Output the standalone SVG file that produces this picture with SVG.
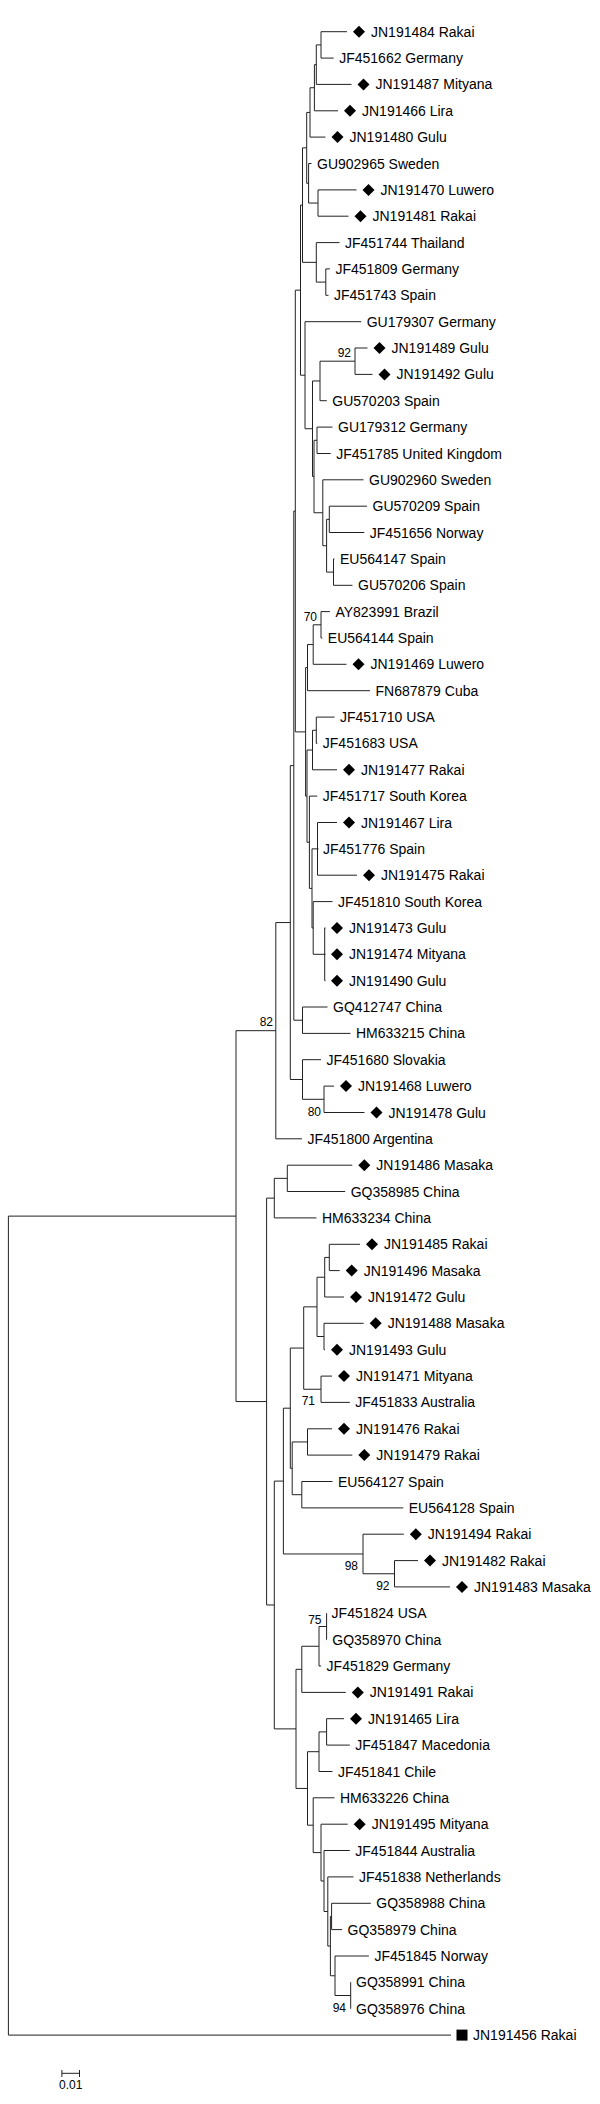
<svg xmlns="http://www.w3.org/2000/svg" xmlns:xlink="http://www.w3.org/1999/xlink" width="600" height="2104" viewBox="0 0 600 2104">
<style>
text{font-family:"Liberation Sans",Arial,sans-serif;fill:#000}
.t{font-size:14px}
.b{font-size:12px;text-anchor:end}
.s{font-size:12px;text-anchor:middle}
#connectors path{fill:none;stroke:#222;stroke-width:1}
.m{fill:#000}
</style>
<defs>
<path id="d" class="m" d="M0 -6L6 0L0 6L-6 0Z"/>
<rect id="sq" class="m" x="-5.5" y="-5.5" width="11" height="11"/>
</defs>
<rect width="600" height="2104" fill="#fff"/>
<g id="connectors">
<path d="M321 31.7V58.1M321 31.7H347M321 58.1H333.7"/>
<path d="M316.3 44.9V84.4M316.3 44.9H321M316.3 84.4H351.5"/>
<path d="M314.4 64.65V110.8M314.4 64.65H316.3M314.4 110.8H338"/>
<path d="M310 87.73V137.1M310 87.73H314.4M310 137.1H325.5"/>
<path d="M318 189.9V216.2M318 189.9H356.5M318 216.2H348.5"/>
<path d="M308.6 163.5V203.05M308.6 163.5H311.5M308.6 203.05H318"/>
<path d="M306.7 112.41V183.28M306.7 112.41H310M306.7 183.28H308.6"/>
<path d="M325.8 268.9V295.3M325.8 268.9H329.9M325.8 295.3H328.5"/>
<path d="M316.3 242.6V282.1M316.3 242.6H339.5M316.3 282.1H325.8"/>
<path d="M302.5 147.84V262.35M302.5 147.84H306.7M302.5 262.35H316.3"/>
<path d="M355 348V374.4M355 348H367.5M355 374.4H372.5"/>
<path d="M320 361.2V400.7M320 361.2H355M320 400.7H326.8"/>
<path d="M317 427.1V453.5M317 427.1H332.5M317 453.5H330.7"/>
<path d="M329.3 506.2V532.5M329.3 506.2H367M329.3 532.5H364.3"/>
<path d="M333.5 558.9V585.3M333.5 558.9H334.5M333.5 585.3H352.5"/>
<path d="M326.6 519.35V572.1M326.6 519.35H329.3M326.6 572.1H333.5"/>
<path d="M322.8 479.8V545.73M322.8 479.8H363.5M322.8 545.73H326.6"/>
<path d="M314 440.3V512.76M314 440.3H317M314 512.76H322.8"/>
<path d="M312.5 380.95V476.53M312.5 380.95H320M312.5 476.53H314"/>
<path d="M305 321.7V428.74M305 321.7H361.2M305 428.74H312.5"/>
<path d="M300.5 205.1V375.22M300.5 205.1H302.5M300.5 375.22H305"/>
<path d="M321 611.6V638M321 611.6H329.9M321 638H322.3"/>
<path d="M313.2 624.8V664.3M313.2 624.8H321M313.2 664.3H346.5"/>
<path d="M307.5 644.55V690.7M307.5 644.55H313.2M307.5 690.7H370"/>
<path d="M316.3 717.1V743.4M316.3 717.1H334.5M316.3 743.4H317.3"/>
<path d="M312.5 730.25V769.8M312.5 730.25H316.3M312.5 769.8H337"/>
<path d="M317.5 822.5V875.2M317.5 822.5H337M317.5 848.9H318.5M317.5 875.2H357"/>
<path d="M324.7 927.9V980.7M324.7 927.9H325.5M324.7 954.3H325.5M324.7 980.7H325.5"/>
<path d="M313.2 901.6V954.3M313.2 901.6H332.5M313.2 954.3H324.7"/>
<path d="M312 848.85V927.95M312 848.85H317.5M312 927.95H313.2"/>
<path d="M309.4 796.1V888.4M309.4 796.1H317.3M309.4 888.4H312"/>
<path d="M307 750.03V842.25M307 750.03H312.5M307 842.25H309.4"/>
<path d="M305.6 667.63V796.14M305.6 667.63H307.5M305.6 796.14H307"/>
<path d="M295.3 290.16V731.89M295.3 290.16H300.5M295.3 731.89H305.6"/>
<path d="M302.5 1007V1033.4M302.5 1007H327.5M302.5 1033.4H350.5"/>
<path d="M324 1086.1V1112.5M324 1086.1H334M324 1112.5H364.5"/>
<path d="M302.5 1059.7V1099.3M302.5 1059.7H321M302.5 1099.3H324"/>
<path d="M293.8 511.03V1020.2M293.8 511.03H295.3M293.8 1020.2H302.5"/>
<path d="M290.3 765.6V1079.5M290.3 765.6H293.8M290.3 1079.5H302.5"/>
<path d="M275.8 922.55V1138.8M275.8 922.55H290.3M275.8 1138.8H302"/>
<path d="M287.3 1165.2V1191.5M287.3 1165.2H352.3M287.3 1191.5H345.2"/>
<path d="M274.3 1178.35V1217.9M274.3 1178.35H287.3M274.3 1217.9H316.5"/>
<path d="M329.3 1244.3V1270.6M329.3 1244.3H360M329.3 1270.6H339.7"/>
<path d="M324.7 1257.45V1297M324.7 1257.45H329.3M324.7 1297H344"/>
<path d="M324 1323.3V1349.7M324 1323.3H363.7M324 1349.7H325"/>
<path d="M317 1277.23V1336.5M317 1277.23H324.7M317 1336.5H324"/>
<path d="M321 1376.1V1402.4M321 1376.1H332M321 1402.4H349.8"/>
<path d="M303.7 1306.86V1389.25M303.7 1306.86H317M303.7 1389.25H321"/>
<path d="M307.5 1428.8V1455.1M307.5 1428.8H332M307.5 1455.1H352.3"/>
<path d="M301.8 1481.5V1507.9M301.8 1481.5H332.5M301.8 1507.9H403.2"/>
<path d="M292.2 1441.95V1494.7M292.2 1441.95H307.5M292.2 1494.7H301.8"/>
<path d="M290.3 1348.06V1468.33M290.3 1348.06H303.7M290.3 1468.33H292.2"/>
<path d="M394.5 1560.6V1586.9M394.5 1560.6H418M394.5 1586.9H450"/>
<path d="M363 1534.2V1573.75M363 1534.2H403.8M363 1573.75H394.5"/>
<path d="M283.4 1408.2V1553.98M283.4 1408.2H290.3M283.4 1553.98H363"/>
<path d="M326.6 1613.3V1639.7M326.6 1613.3H327M326.6 1639.7H327"/>
<path d="M319 1626.5V1666M319 1626.5H326.6M319 1666H321.1"/>
<path d="M301.8 1646.25V1692.4M301.8 1646.25H319M301.8 1692.4H345.8"/>
<path d="M326.6 1718.7V1745.1M326.6 1718.7H344M326.6 1745.1H349.8"/>
<path d="M319 1731.9V1771.5M319 1731.9H326.6M319 1771.5H332.5"/>
<path d="M350.7 1982.3V2008.7M350.7 1982.3H351M350.7 2008.7H351"/>
<path d="M335 1956V1995.5M335 1956H368.9M335 1995.5H350.7"/>
<path d="M331.6 1903.3V1929.6M331.6 1903.3H370.8M331.6 1929.6H342.1"/>
<path d="M330.4 1916.45V1975.75M330.4 1916.45H331.6M330.4 1975.75H335"/>
<path d="M327.8 1876.9V1946.1M327.8 1876.9H353.5M327.8 1946.1H330.4"/>
<path d="M324 1850.5V1911.5M324 1850.5H349.8M324 1911.5H327.8"/>
<path d="M321 1824.2V1881M321 1824.2H347.7M321 1881H324"/>
<path d="M313.2 1797.8V1852.6M313.2 1797.8H334.5M313.2 1852.6H321"/>
<path d="M307.5 1751.7V1825.2M307.5 1751.7H319M307.5 1825.2H313.2"/>
<path d="M296 1669.33V1788.45M296 1669.33H301.8M296 1788.45H307.5"/>
<path d="M274.3 1481.09V1728.89M274.3 1481.09H283.4M274.3 1728.89H296"/>
<path d="M266.6 1198.13V1604.99M266.6 1198.13H274.3M266.6 1604.99H274.3"/>
<path d="M236 1030.68V1401.56M236 1030.68H275.8M236 1401.56H266.6"/>
<path d="M8.4 1216.12V2035.1M8.4 1216.12H236M8.4 2035.1H451"/>
</g>
<g id="leaves" class="t">
<g id="JN191484"><use xlink:href="#d" x="359" y="31.7"/><text class="t" x="371" y="36.7">JN191484 Rakai</text></g>
<g id="JF451662"><text class="t" x="339.2" y="63.1">JF451662 Germany</text></g>
<g id="JN191487"><use xlink:href="#d" x="363.5" y="84.4"/><text class="t" x="375.5" y="89.4">JN191487 Mityana</text></g>
<g id="JN191466"><use xlink:href="#d" x="350" y="110.8"/><text class="t" x="362" y="115.8">JN191466 Lira</text></g>
<g id="JN191480"><use xlink:href="#d" x="337.5" y="137.1"/><text class="t" x="349.5" y="142.1">JN191480 Gulu</text></g>
<g id="GU902965"><text class="t" x="317" y="168.5">GU902965 Sweden</text></g>
<g id="JN191470"><use xlink:href="#d" x="368.5" y="189.9"/><text class="t" x="380.5" y="194.9">JN191470 Luwero</text></g>
<g id="JN191481"><use xlink:href="#d" x="360.5" y="216.2"/><text class="t" x="372.5" y="221.2">JN191481 Rakai</text></g>
<g id="JF451744"><text class="t" x="345" y="247.6">JF451744 Thailand</text></g>
<g id="JF451809"><text class="t" x="335.4" y="273.9">JF451809 Germany</text></g>
<g id="JF451743"><text class="t" x="334" y="300.3">JF451743 Spain</text></g>
<g id="GU179307"><text class="t" x="366.7" y="326.7">GU179307 Germany</text></g>
<g id="JN191489"><use xlink:href="#d" x="379.5" y="348"/><text class="t" x="391.5" y="353">JN191489 Gulu</text></g>
<g id="JN191492"><use xlink:href="#d" x="384.5" y="374.4"/><text class="t" x="396.5" y="379.4">JN191492 Gulu</text></g>
<g id="GU570203"><text class="t" x="332.3" y="405.7">GU570203 Spain</text></g>
<g id="GU179312"><text class="t" x="338" y="432.1">GU179312 Germany</text></g>
<g id="JF451785"><text class="t" x="336.2" y="458.5">JF451785 United Kingdom</text></g>
<g id="GU902960"><text class="t" x="369" y="484.8">GU902960 Sweden</text></g>
<g id="GU570209"><text class="t" x="372.5" y="511.2">GU570209 Spain</text></g>
<g id="JF451656"><text class="t" x="369.8" y="537.5">JF451656 Norway</text></g>
<g id="EU564147"><text class="t" x="340" y="563.9">EU564147 Spain</text></g>
<g id="GU570206"><text class="t" x="358" y="590.3">GU570206 Spain</text></g>
<g id="AY823991"><text class="t" x="335.4" y="616.6">AY823991 Brazil</text></g>
<g id="EU564144"><text class="t" x="327.8" y="643">EU564144 Spain</text></g>
<g id="JN191469"><use xlink:href="#d" x="358.5" y="664.3"/><text class="t" x="370.5" y="669.3">JN191469 Luwero</text></g>
<g id="FN687879"><text class="t" x="375.5" y="695.7">FN687879 Cuba</text></g>
<g id="JF451710"><text class="t" x="340" y="722.1">JF451710 USA</text></g>
<g id="JF451683"><text class="t" x="322.8" y="748.4">JF451683 USA</text></g>
<g id="JN191477"><use xlink:href="#d" x="349" y="769.8"/><text class="t" x="361" y="774.8">JN191477 Rakai</text></g>
<g id="JF451717"><text class="t" x="322.8" y="801.1">JF451717 South Korea</text></g>
<g id="JN191467"><use xlink:href="#d" x="349" y="822.5"/><text class="t" x="361" y="827.5">JN191467 Lira</text></g>
<g id="JF451776"><text class="t" x="323" y="853.9">JF451776 Spain</text></g>
<g id="JN191475"><use xlink:href="#d" x="369" y="875.2"/><text class="t" x="381" y="880.2">JN191475 Rakai</text></g>
<g id="JF451810"><text class="t" x="338" y="906.6">JF451810 South Korea</text></g>
<g id="JN191473"><use xlink:href="#d" x="337" y="927.9"/><text class="t" x="349" y="932.9">JN191473 Gulu</text></g>
<g id="JN191474"><use xlink:href="#d" x="337" y="954.3"/><text class="t" x="349" y="959.3">JN191474 Mityana</text></g>
<g id="JN191490"><use xlink:href="#d" x="337" y="980.7"/><text class="t" x="349" y="985.7">JN191490 Gulu</text></g>
<g id="GQ412747"><text class="t" x="333" y="1012">GQ412747 China</text></g>
<g id="HM633215"><text class="t" x="356" y="1038.4">HM633215 China</text></g>
<g id="JF451680"><text class="t" x="326.5" y="1064.7">JF451680 Slovakia</text></g>
<g id="JN191468"><use xlink:href="#d" x="346" y="1086.1"/><text class="t" x="358" y="1091.1">JN191468 Luwero</text></g>
<g id="JN191478"><use xlink:href="#d" x="376.5" y="1112.5"/><text class="t" x="388.5" y="1117.5">JN191478 Gulu</text></g>
<g id="JF451800"><text class="t" x="307.5" y="1143.8">JF451800 Argentina</text></g>
<g id="JN191486"><use xlink:href="#d" x="364.3" y="1165.2"/><text class="t" x="376.3" y="1170.2">JN191486 Masaka</text></g>
<g id="GQ358985"><text class="t" x="350.7" y="1196.5">GQ358985 China</text></g>
<g id="HM633234"><text class="t" x="322" y="1222.9">HM633234 China</text></g>
<g id="JN191485"><use xlink:href="#d" x="372" y="1244.3"/><text class="t" x="384" y="1249.3">JN191485 Rakai</text></g>
<g id="JN191496"><use xlink:href="#d" x="351.7" y="1270.6"/><text class="t" x="363.7" y="1275.6">JN191496 Masaka</text></g>
<g id="JN191472"><use xlink:href="#d" x="356" y="1297"/><text class="t" x="368" y="1302">JN191472 Gulu</text></g>
<g id="JN191488"><use xlink:href="#d" x="375.7" y="1323.3"/><text class="t" x="387.7" y="1328.3">JN191488 Masaka</text></g>
<g id="JN191493"><use xlink:href="#d" x="337" y="1349.7"/><text class="t" x="349" y="1354.7">JN191493 Gulu</text></g>
<g id="JN191471"><use xlink:href="#d" x="344" y="1376.1"/><text class="t" x="356" y="1381.1">JN191471 Mityana</text></g>
<g id="JF451833"><text class="t" x="355.3" y="1407.4">JF451833 Australia</text></g>
<g id="JN191476"><use xlink:href="#d" x="344" y="1428.8"/><text class="t" x="356" y="1433.8">JN191476 Rakai</text></g>
<g id="JN191479"><use xlink:href="#d" x="364.3" y="1455.1"/><text class="t" x="376.3" y="1460.1">JN191479 Rakai</text></g>
<g id="EU564127"><text class="t" x="338" y="1486.5">EU564127 Spain</text></g>
<g id="EU564128"><text class="t" x="408.7" y="1512.9">EU564128 Spain</text></g>
<g id="JN191494"><use xlink:href="#d" x="415.8" y="1534.2"/><text class="t" x="427.8" y="1539.2">JN191494 Rakai</text></g>
<g id="JN191482"><use xlink:href="#d" x="430" y="1560.6"/><text class="t" x="442" y="1565.6">JN191482 Rakai</text></g>
<g id="JN191483"><use xlink:href="#d" x="462" y="1586.9"/><text class="t" x="474" y="1591.9">JN191483 Masaka</text></g>
<g id="JF451824"><text class="t" x="331.6" y="1618.3">JF451824 USA</text></g>
<g id="GQ358970"><text class="t" x="332.3" y="1644.7">GQ358970 China</text></g>
<g id="JF451829"><text class="t" x="326.6" y="1671">JF451829 Germany</text></g>
<g id="JN191491"><use xlink:href="#d" x="357.8" y="1692.4"/><text class="t" x="369.8" y="1697.4">JN191491 Rakai</text></g>
<g id="JN191465"><use xlink:href="#d" x="356" y="1718.7"/><text class="t" x="368" y="1723.7">JN191465 Lira</text></g>
<g id="JF451847"><text class="t" x="355.3" y="1750.1">JF451847 Macedonia</text></g>
<g id="JF451841"><text class="t" x="338" y="1776.5">JF451841 Chile</text></g>
<g id="HM633226"><text class="t" x="340" y="1802.8">HM633226 China</text></g>
<g id="JN191495"><use xlink:href="#d" x="359.7" y="1824.2"/><text class="t" x="371.7" y="1829.2">JN191495 Mityana</text></g>
<g id="JF451844"><text class="t" x="355.3" y="1855.5">JF451844 Australia</text></g>
<g id="JF451838"><text class="t" x="359" y="1881.9">JF451838 Netherlands</text></g>
<g id="GQ358988"><text class="t" x="376.3" y="1908.3">GQ358988 China</text></g>
<g id="GQ358979"><text class="t" x="347.6" y="1934.6">GQ358979 China</text></g>
<g id="JF451845"><text class="t" x="374.4" y="1961">JF451845 Norway</text></g>
<g id="GQ358991"><text class="t" x="356" y="1987.3">GQ358991 China</text></g>
<g id="GQ358976"><text class="t" x="356" y="2013.7">GQ358976 China</text></g>
<g id="JN191456"><use xlink:href="#sq" x="462" y="2035.1"/><text class="t" x="473" y="2040.1">JN191456 Rakai</text></g>
</g>
<g id="support">
<text class="b" x="351" y="357">92</text>
<text class="b" x="317" y="621">70</text>
<text class="b" x="273" y="1026">82</text>
<text class="b" x="321" y="1116">80</text>
<text class="b" x="315" y="1405">71</text>
<text class="b" x="358" y="1570">98</text>
<text class="b" x="389.5" y="1590">92</text>
<text class="b" x="321.5" y="1623.5">75</text>
<text class="b" x="346" y="2011.5">94</text>
</g>
<g id="scale">
<path d="M61.9 2073.3H79.5M61.9 2070V2077M79.5 2070V2077" fill="none" stroke="#222" stroke-width="1"/>
<text class="s" x="70.7" y="2089">0.01</text>
</g>
</svg>
